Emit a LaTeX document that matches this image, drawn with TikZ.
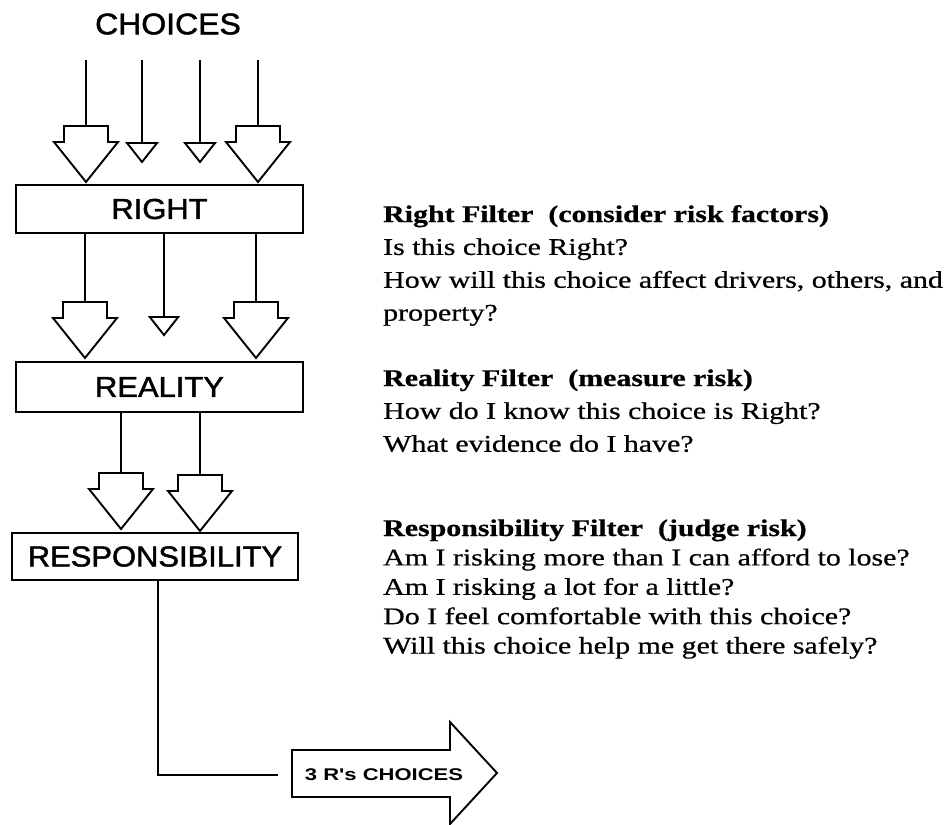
\documentclass[tikz,border=0pt]{standalone}
\usepackage{fontspec}
\setmainfont{Liberation Serif}[FakeBold=0.6]
\setsansfont{Liberation Sans}
\newfontfamily\labelfont{Liberation Sans}[FakeBold=1.5]
\newfontfamily\rsans{Liberation Sans}
\usepackage{graphicx}
\newcommand\hstr[1]{\scalebox{1.25}[1]{#1}}
\newcommand\lstr[1]{\scalebox{1.07}[1]{#1}}
\begin{document}
\begin{tikzpicture}[x=1bp,y=-1bp,
  ln/.style={line width=1.9bp},
  boxnode/.style={draw, line width=2.1bp, minimum width=287bp, minimum height=48bp, inner sep=0pt,
    font=\labelfont\fontsize{29}{29}\selectfont},
  side/.style={anchor=base west, inner sep=0pt},
  bigarr/.pic={\draw[ln,fill=white] (-22,0) -- (22,0) -- (22,16) -- (32,16) -- (0,56) -- (-32,16) -- (-22,16) -- cycle;
     \coordinate (-top) at (0,0);},
  smallarr/.pic={\draw[ln,fill=white] (-15,0) -- (15,0) -- (0,19) -- cycle;
     \coordinate (-top) at (0,0);}
]
\useasboundingbox (0,0) rectangle (949,825);

% title
\node[font=\labelfont\fontsize{30}{30}\selectfont] (choices) at (168,24) {\lstr{CHOICES}};

% filter boxes
\node[boxnode] (right) at (159.5,209) {\lstr{RIGHT}};
\node[boxnode, minimum height=50bp] (reality) at (159.5,387) {\lstr{REALITY}};
\node[boxnode, minimum width=286bp, minimum height=47bp] (resp) at (155,556.5) {\lstr{RESPONSIBILITY}};

% row 1 arrows (choices into RIGHT)
\pic (a1) at (86,126) {bigarr};
\pic (a2) at (142,143) {smallarr};
\pic (a3) at (200,143) {smallarr};
\pic (a4) at (258,126) {bigarr};
\coordinate (s1) at (86,60);
\coordinate (s2) at (142,60);
\coordinate (s3) at (200,60);
\coordinate (s4) at (258,60);
\draw[ln] (s1) -- (a1-top);
\draw[ln] (s2) -- (a2-top);
\draw[ln] (s3) -- (a3-top);
\draw[ln] (s4) -- (a4-top);

% row 2 arrows (RIGHT into REALITY)
\pic (b1) at (85,302) {bigarr};
\pic[scale=0.95] (b2) at (164,317) {smallarr};
\pic (b3) at (256,302) {bigarr};
\draw[ln] (right.south -| b1-top) -- (b1-top);
\draw[ln] (right.south -| b2-top) -- (b2-top);
\draw[ln] (right.south -| b3-top) -- (b3-top);

% row 3 arrows (REALITY into RESPONSIBILITY)
\pic (c1) at (121,473) {bigarr};
\pic (c2) at (200,475) {bigarr};
\draw[ln] (reality.south -| c1-top) -- (c1-top);
\draw[ln] (reality.south -| c2-top) -- (c2-top);

% output arrow
\draw[ln,fill=white] (292,750) -- (450,750) -- (450,722) -- (497,773) -- (450,824) -- (450,797) -- (292,797) -- cycle;
\node[font=\rsans\bfseries\fontsize{17}{17}\selectfont, inner sep=0pt] (out) at (384,775) {\scalebox{1.3}[1]{3 R's CHOICES}};
\coordinate (rx) at (158,0);
\coordinate (outend) at (278,775);
\draw[ln] (resp.south -| rx) |- (outend);

% descriptions
\node[side, font=\fontsize{24}{33}\selectfont] (t1) at (383,222) {\hstr{\begin{tabular}[t]{@{}l@{}}
\textbf{Right Filter\ \ (consider risk factors)}\\
Is this choice Right?\\
How will this choice affect drivers, others, and\\
property?
\end{tabular}}};
\node[side, font=\fontsize{24}{33}\selectfont] (t2) at (383,386) {\hstr{\begin{tabular}[t]{@{}l@{}}
\textbf{Reality Filter\ \ (measure risk)}\\
How do I know this choice is Right?\\
What evidence do I have?
\end{tabular}}};
\node[side, font=\fontsize{24}{29.5}\selectfont] (t3) at (383,536) {\hstr{\begin{tabular}[t]{@{}l@{}}
\textbf{Responsibility Filter\ \ (judge risk)}\\
Am I risking more than I can afford to lose?\\
Am I risking a lot for a little?\\
Do I feel comfortable with this choice?\\
Will this choice help me get there safely?
\end{tabular}}};
\end{tikzpicture}
\end{document}
